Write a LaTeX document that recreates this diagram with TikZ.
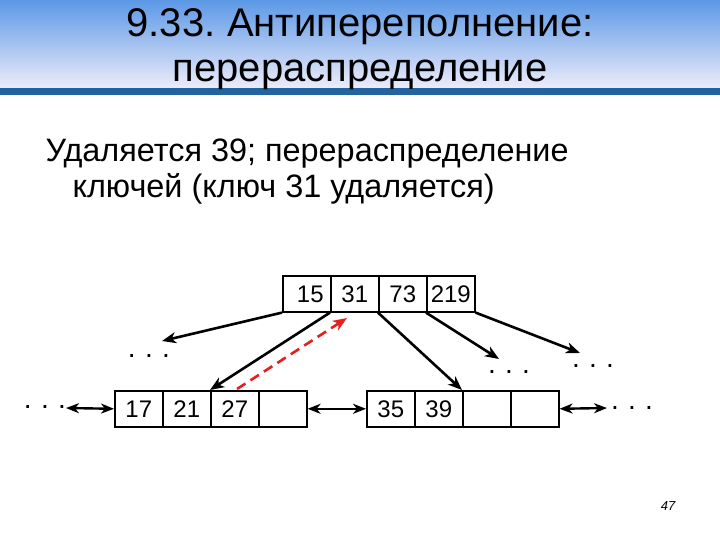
\documentclass[tikz,border=0pt]{standalone}
\usepackage{fontspec}
\setmainfont{Liberation Sans}
\usetikzlibrary{arrows.meta}
\definecolor{hdtop}{RGB}{92,152,230}
\definecolor{hdbot}{RGB}{236,236,250}
\definecolor{hdband}{RGB}{34,100,160}
\definecolor{redarr}{RGB}{230,30,30}
\begin{document}
\begin{tikzpicture}[x=1pt,y=-1pt,
  cell/.style={draw, line width=1.6pt, minimum width=48pt, minimum height=36pt, inner sep=0pt, text height=17.2pt, text depth=0pt, anchor=north west, font=\fontsize{24}{24}\selectfont},
  tipA/.style={-{Stealth[length=14pt,width=11pt,inset=4pt]}},
  tipB/.style={{Stealth[length=13pt,width=10pt,inset=4pt]}-{Stealth[length=13pt,width=10pt,inset=4pt]}},
  arr/.style={line width=2.6pt, tipA},
  darr/.style={line width=2.4pt, tipB},
  dots/.style={font=\fontsize{28}{28}\selectfont, inner sep=0pt},
  title/.style={font=\fontsize{40}{40}\selectfont, anchor=base},
  body/.style={font=\fontsize{32.4}{32.4}\selectfont, anchor=base west}]
\useasboundingbox (0,0) rectangle (720,540);
\fill[white] (0,0) rectangle (720,540);
\shade[top color=hdtop, bottom color=hdbot] (0,0) rectangle (720,88);
\fill[hdband] (0,88) rectangle (720,95);
\node[title] (t1l) at (360,37) {9.33.\kern-3pt{} Антипереполнение:};
\node[title] (t2l) at (360,82) {перераспределение};
\node[body] (b1l) at (42,162) {Удаляется 39; перераспределение};
\node[body] (b2l) at (69,198) {ключей (ключ 31 удаляется)};
% top node
\node[cell] (t1) at (282,275) {\kern7pt 15};
\node[cell] (t2) at (330,275) {31};
\node[cell] (t3) at (378,275) {73};
\node[cell] (t4) at (426,275) {219};
% bottom left node
\node[cell] (a1) at (114,390) {17};
\node[cell] (a2) at (162,390) {21};
\node[cell] (a3) at (210,390) {27};
\node[cell] (a4) at (258,390) {};
% bottom right node
\node[cell] (c1) at (366,390) {35};
\node[cell] (c2) at (414,390) {39};
\node[cell] (c3) at (462,390) {};
\node[cell] (c4) at (510,390) {};
% dots
\node[dots] (d1) at (149,356) {.\,\,.\,\,.};
\node[dots] (d2) at (509,372) {.\,\,.\,\,.};
\node[dots] (d3) at (593,366) {.\,\,.\,\,.};
\node[dots] (dl) at (45,407) {.\,\,.\,\,.};
\node[dots] (dr) at (632,408) {.\,\,.\,\,.};
\coordinate (e1) at (162,341);
\coordinate (e4) at (499,359);
\coordinate (e5) at (580,353);
\coordinate (rs) at (237,389);
\coordinate (re) at (347,318);
\coordinate (l0) at (66,408);
\coordinate (r0) at (607,408);
% connectors
\draw[arr] (t1.south west) -- (e1);
\draw[arr] (t2.south west) -- (a3.north west);
\draw[arr] (t3.south west) -- (c3.north west);
\draw[arr] (t4.south west) -- (e4);
\draw[arr] (t4.south east) -- (e5);
\draw[darr] (l0) -- (a1.west);
\draw[darr] (a4.east) -- (c1.west);
\draw[darr] (c4.east) -- (r0);
\draw[line width=2.6pt, redarr, dashed, dash pattern=on 10pt off 6pt, tipA] (rs) -- (re);
\node[font=\fontsize{13}{13}\selectfont\itshape] (pg) at (668,506) {47};
\end{tikzpicture}
\end{document}
